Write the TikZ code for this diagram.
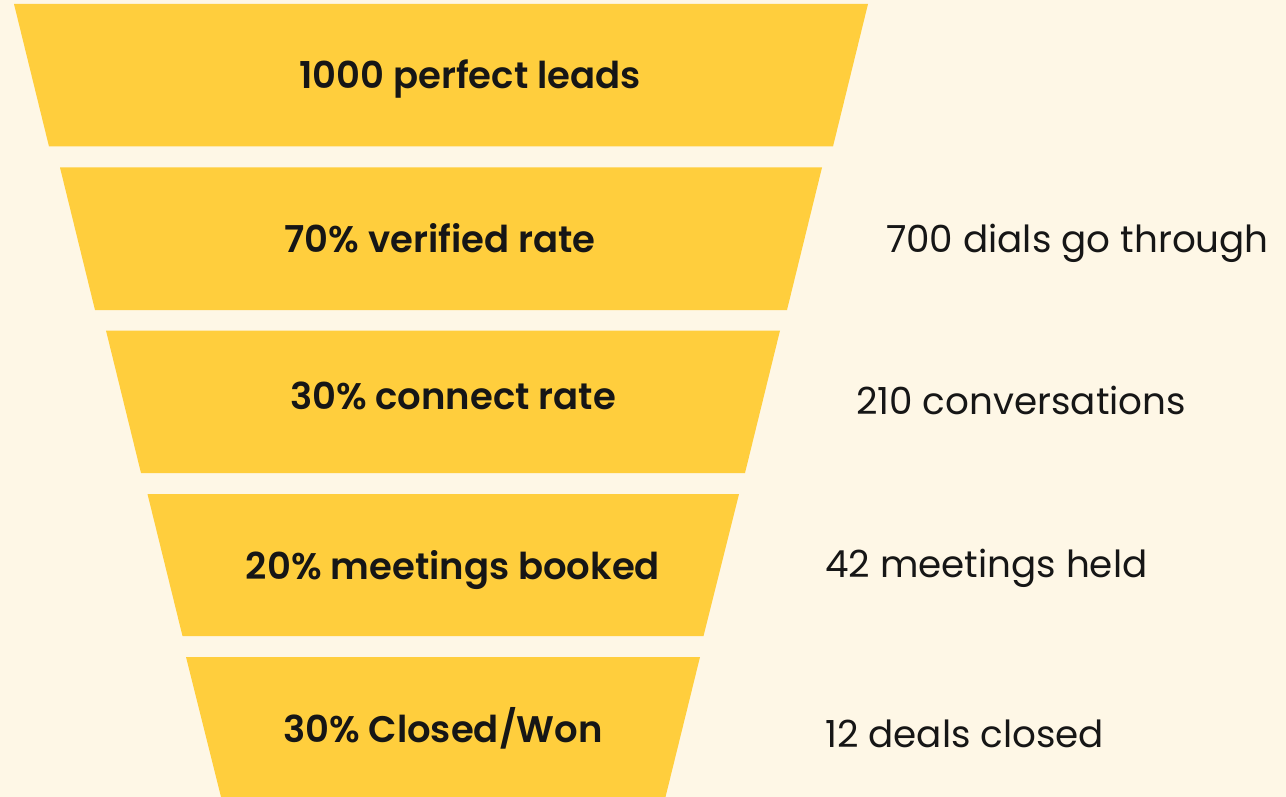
\documentclass[tikz,border=0pt]{standalone}
\usepackage{fontspec}
\setmainfont{Poppins}[BoldFont={Poppins SemiBold}]
\definecolor{bgc}{HTML}{FEF7E6}
\definecolor{funnel}{HTML}{FFCE3D}
\definecolor{ink}{HTML}{161616}
\begin{document}
\begin{tikzpicture}[x=1pt,y=-1pt,
  stage/.style={fill=funnel,draw=none},
  lbl/.style={font=\fontsize{37}{42}\selectfont\bfseries,text=ink,anchor=base,inner sep=0},
  side/.style={font=\fontsize{37.3}{42}\selectfont,text=ink,anchor=base west,inner sep=0}]
\fill[bgc] (0,0) rectangle (1286,797);
\useasboundingbox (0,0) rectangle (1286,797);
\fill[stage] (14,4) -- (868,4) -- (833,146.5) -- (49,146.5) -- cycle;
\fill[stage] (60,167.5) -- (822,167.5) -- (787,310) -- (95,310) -- cycle;
\fill[stage] (106,330.5) -- (780,330.5) -- (745,473) -- (141,473) -- cycle;
\fill[stage] (147.5,494) -- (739,494) -- (703.5,636) -- (182.5,636) -- cycle;
\fill[stage] (186,657) -- (700,657) -- (665.5,797) -- (221,797) -- cycle;
\node[lbl] (l1) at (470,89) {1000 perfect leads};
\node[lbl] (l2) at (440,252) {70\% verified rate};
\node[lbl] (l3) at (453,409) {30\% connect rate};
\node[lbl] (l4) at (453,579) {20\% meetings booked};
\node[lbl] (l5) at (443,742) {30\% Closed/Won};
\node[side] (s2) at (886,252) {700 dials go through};
\node[side] (s3) at (856,414) {210 conversations};
\node[side] (s4) at (825,577) {42 meetings held};
\node[side] (s5) at (825,747) {12 deals closed};
\end{tikzpicture}
\end{document}
